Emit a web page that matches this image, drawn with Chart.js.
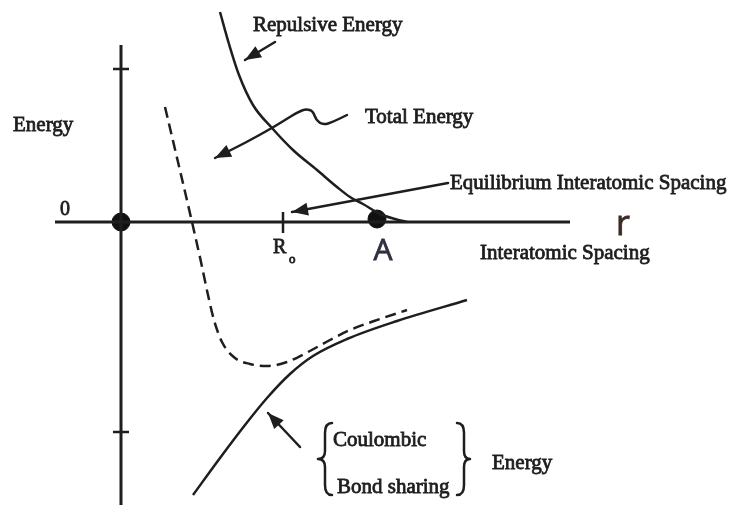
<!DOCTYPE html>
<html>
<head>
<meta charset="utf-8">
<script src="https://cdn.jsdelivr.net/npm/chart.js@4"></script>
<style>
  html, body { margin: 0; padding: 0; background: #fff; }
  #wrap { width: 729px; height: 507px; }
</style>
</head>
<body>
<div id="wrap"><canvas id="energy"></canvas></div>
<script>
// interatomic spacing (r) and energy values
const repulsiveR = [0.99, 1.08, 1.18, 1.32, 1.51, 1.72, 1.96, 2.16, 2.29, 2.42, 2.59, 2.74, 2.86];
const repulsiveE = [2.10, 1.78, 1.47, 1.17, 0.94, 0.72, 0.52, 0.35, 0.25, 0.18, 0.08, 0.03, 0.00];

const totalR = [0.44, 0.57, 0.71, 0.80, 0.87, 0.93, 1.01, 1.14, 1.29, 1.46, 1.66, 1.87, 2.09, 2.29, 2.59, 2.86];
const totalE = [1.15, 0.60, 0.00, -0.40, -0.73, -0.98, -1.20, -1.36, -1.42, -1.44, -1.40, -1.30, -1.18, -1.08, -0.97, -0.88];

const attractR = [0.72, 0.99, 1.24, 1.46, 1.69, 1.92, 2.26, 2.76, 3.46];
const attractE = [-2.73, -2.36, -2.03, -1.76, -1.52, -1.34, -1.17, -0.99, -0.78];

const axisR = [-0.66, 4.49];       // ends of the r axis
const axisE = [1.77, -2.83];       // ends of the energy axis
const energyTicks = [1.53, -2.10];
const r0 = 1.62;                   // R_o tick
const pointA = { r: 2.56, e: 0.03 };

function pts(xs, ys) {
    return xs.map((x, i) => ({ x: x, y: ys[i] }));
}

// little tick segments, separated by gaps
let tickData = [];
energyTicks.forEach(e => {
    tickData.push({ x: -0.08, y: e }, { x: 0.08, y: e }, { x: null, y: null });
});
tickData.push({ x: r0, y: 0.10 }, { x: r0, y: -0.11 });

const ink = '#1e1e1e';

const annotations = {
    id: 'annotations',
    afterDatasetsDraw: (chart) => {
        const ctx = chart.ctx;
        const sx = chart.scales.x, sy = chart.scales.y;
        const X = v => sx.getPixelForValue(v);
        const Y = v => sy.getPixelForValue(v);

        function label(t, r, e, font, color, align, base) {
            ctx.save();
            ctx.font = font;
            ctx.fillStyle = color || ink;
            ctx.textAlign = align || 'left';
            ctx.textBaseline = base || 'middle';
            ctx.fillText(t, X(r), Y(e));
            ctx.strokeStyle = color || ink;
            ctx.lineWidth = 0.8;
            ctx.strokeText(t, X(r), Y(e));
            ctx.restore();
        }

        function head(x1, y1, x2, y2) {
            const a = Math.atan2(y2 - y1, x2 - x1);
            const len = 16, w = 6.5;
            ctx.beginPath();
            ctx.moveTo(x2, y2);
            ctx.lineTo(x2 - len * Math.cos(a) + w * Math.sin(a), y2 - len * Math.sin(a) - w * Math.cos(a));
            ctx.lineTo(x2 - len * Math.cos(a) - w * Math.sin(a), y2 - len * Math.sin(a) + w * Math.cos(a));
            ctx.closePath();
            ctx.fill();
        }

        function arrow(r1, e1, r2, e2) {
            const x1 = X(r1), y1 = Y(e1), x2 = X(r2), y2 = Y(e2);
            ctx.beginPath();
            ctx.moveTo(x1, y1);
            ctx.lineTo(x2, y2);
            ctx.stroke();
            head(x1, y1, x2, y2);
        }

        ctx.save();
        ctx.strokeStyle = ink;
        ctx.fillStyle = ink;
        ctx.lineWidth = 2.5;
        ctx.lineCap = 'round';
        ctx.lineJoin = 'round';

        arrow(1.54, 1.80, 1.24, 1.62);
        arrow(3.27, 0.39, 1.71, 0.10);
        arrow(1.79, -2.25, 1.47, -1.91);

        // wavy pointer from "Total Energy"
        const wave = [[2.26, 1.07], [2.12, 1.00], [2.02, 0.97], [1.95, 1.02], [1.92, 1.11],
                      [1.85, 1.13], [1.77, 1.10], [1.64, 1.02], [1.51, 0.94], [1.24, 0.79], [0.94, 0.64]];
        ctx.beginPath();
        ctx.moveTo(X(wave[0][0]), Y(wave[0][1]));
        for (let i = 1; i < wave.length - 1; i++) {
            const mx = (X(wave[i][0]) + X(wave[i + 1][0])) / 2;
            const my = (Y(wave[i][1]) + Y(wave[i + 1][1])) / 2;
            ctx.quadraticCurveTo(X(wave[i][0]), Y(wave[i][1]), mx, my);
        }
        const last = wave[wave.length - 1], prev = wave[wave.length - 2];
        ctx.lineTo(X(last[0]), Y(last[1]));
        ctx.stroke();
        head(X(prev[0]), Y(prev[1]), X(last[0]), Y(last[1]));

        // braces
        function brace(xo, xm, xt) {
            const yt = Y(-2.01), yb = Y(-2.73), ym = Y(-2.37);
            ctx.beginPath();
            ctx.moveTo(X(xo), yt);
            ctx.quadraticCurveTo(X(xm), yt, X(xm), yt + 10);
            ctx.lineTo(X(xm), ym - 8);
            ctx.quadraticCurveTo(X(xm), ym, X(xt), ym);
            ctx.quadraticCurveTo(X(xm), ym, X(xm), ym + 8);
            ctx.lineTo(X(xm), yb - 10);
            ctx.quadraticCurveTo(X(xm), yb, X(xo), yb);
            ctx.stroke();
        }
        brace(2.11, 2.04, 1.97);
        brace(3.36, 3.43, 3.49);
        ctx.restore();

        const serif = '21px "Liberation Serif", "DejaVu Serif", serif';
        label('Repulsive Energy', 1.32, 1.97, serif);
        label('Total Energy', 2.44, 1.05, serif);
        label('Equilibrium Interatomic Spacing', 3.29, 0.39, serif);
        label('Interatomic Spacing', 3.59, -0.31, serif);
        label('Energy', -1.08, 0.97, serif);
        label('0', -0.61, 0.12, '20px "Liberation Serif", serif');
        label('R', 1.52, -0.26, '20px "Liberation Serif", serif');
        label('o', 1.68, -0.38, '13px "Liberation Serif", serif');
        label('Coulombic', 2.12, -2.18, serif);
        label('Bond sharing', 2.16, -2.65, serif);
        label('Energy', 3.71, -2.41, serif);
        label('A', 2.62, -0.29, '30px "Open Sans", sans-serif', '#2f3140', 'center');
        label('r', 4.95, -0.13, '34px "Open Sans", sans-serif', '#3d2a25', 'left', 'alphabetic');
    }
};

const lineStyle = {
    showLine: true,
    borderColor: ink,
    pointRadius: 0,
    fill: false
};

new Chart(document.getElementById('energy'), {
    type: 'scatter',
    data: {
        datasets: [
            Object.assign({ label: 'r axis', data: pts(axisR, [0, 0]), borderWidth: 3 }, lineStyle),
            Object.assign({ label: 'energy axis', data: pts([0, 0], axisE), borderWidth: 3 }, lineStyle),
            Object.assign({ label: 'ticks', data: tickData, borderWidth: 2.5, spanGaps: false }, lineStyle),
            Object.assign({ label: 'Repulsive Energy', data: pts(repulsiveR, repulsiveE), borderWidth: 2.5,
                cubicInterpolationMode: 'monotone' }, lineStyle),
            Object.assign({ label: 'Total Energy', data: pts(totalR, totalE), borderWidth: 2.5,
                borderDash: [11, 6], cubicInterpolationMode: 'monotone' }, lineStyle),
            Object.assign({ label: 'Coulombic / Bond sharing Energy', data: pts(attractR, attractE), borderWidth: 2.5,
                cubicInterpolationMode: 'monotone' }, lineStyle),
            {
                label: 'points',
                data: [{ x: 0, y: 0 }, { x: pointA.r, y: pointA.e }],
                showLine: false,
                pointRadius: [9, 9],
                backgroundColor: '#111',
                borderColor: '#111'
            }
        ]
    },
    plugins: [annotations],
    options: {
        responsive: true,
        maintainAspectRatio: false,
        animation: false,
        layout: { padding: 0, autoPadding: false },
        plugins: { legend: { display: false }, tooltip: { enabled: false } },
        scales: {
            x: { type: 'linear', display: false, min: -1.21, max: 6.08 },
            y: { type: 'linear', display: false, min: -2.85, max: 2.22 }
        }
    }
});
</script>
</body>
</html>
